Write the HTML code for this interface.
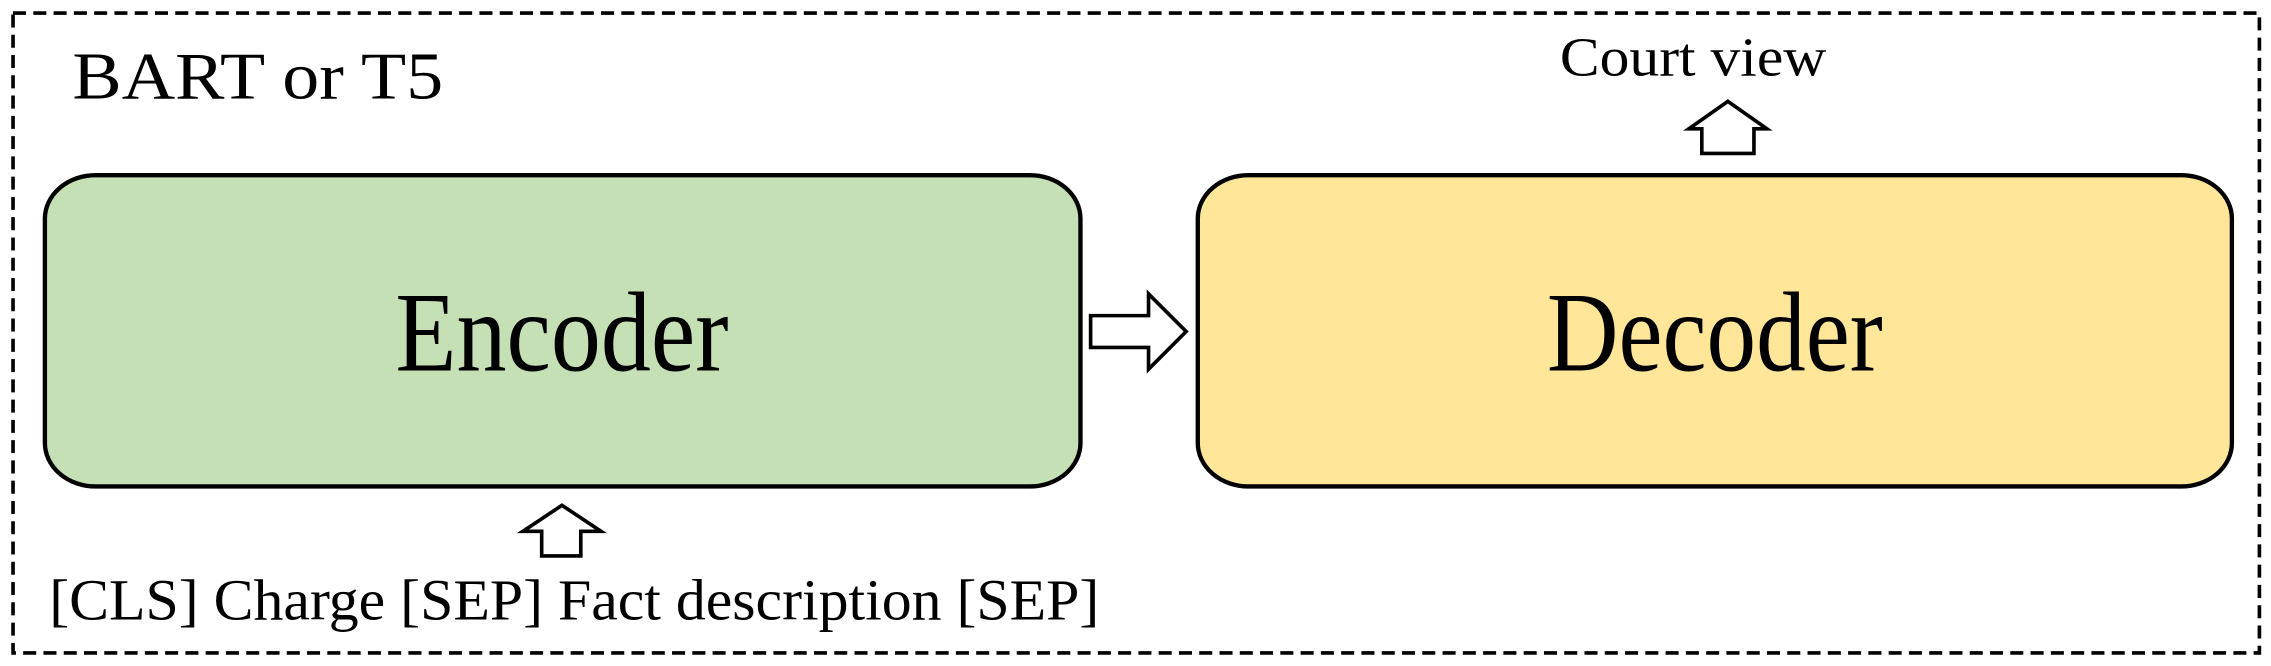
<!DOCTYPE html>
<html><head><meta charset="utf-8"><style>html,body{margin:0;padding:0;background:#fff;width:2271px;height:666px;overflow:hidden}</style></head>
<body>
<svg width="2271" height="666" viewBox="0 0 1568 460" preserveAspectRatio="none" xmlns="http://www.w3.org/2000/svg" font-family="'Liberation Serif', serif">
<rect x="9" y="9" width="1551" height="442" fill="none" stroke="#000" stroke-width="2.5" stroke-dasharray="9,5"/>
<text x="50" y="68" font-size="46" textLength="256" lengthAdjust="spacingAndGlyphs">BART or T5</text>
<text x="1077" y="52" font-size="38" textLength="184" lengthAdjust="spacingAndGlyphs">Court view</text>
<rect x="31" y="121" width="715" height="215" rx="35" ry="30" fill="#c5e0b4" stroke="#000" stroke-width="3"/>
<rect x="827" y="121" width="714" height="215" rx="35" ry="30" fill="#ffe699" stroke="#000" stroke-width="3"/>
<text x="388" y="256" font-size="78" text-anchor="middle" textLength="230" lengthAdjust="spacingAndGlyphs">Encoder</text>
<text x="1184" y="256" font-size="78" text-anchor="middle" textLength="232" lengthAdjust="spacingAndGlyphs">Decoder</text>
<polygon points="753,218 793,218 793,203 819,229 793,255 793,240 753,240" fill="#fff" stroke="#000" stroke-width="2.5"/>
<polygon points="1175,106 1175,89 1166,89 1193,70 1220,89 1211,89 1211,106" fill="#fff" stroke="#000" stroke-width="2.5"/>
<polygon points="374,384 374,367 361,367 388,349 415,367 401,367 401,384" fill="#fff" stroke="#000" stroke-width="2.5"/>
<text x="34" y="428" font-size="40" textLength="725" lengthAdjust="spacingAndGlyphs">[CLS] Charge [SEP] Fact description [SEP]</text>
</svg>
</body></html>
